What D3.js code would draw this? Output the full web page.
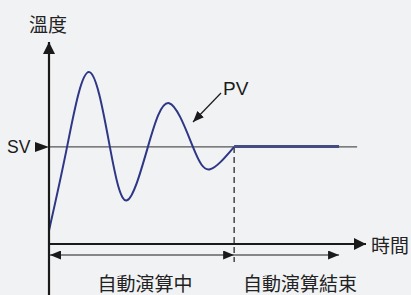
<!DOCTYPE html>
<html lang="zh-Hant">
<head>
<meta charset="utf-8">
<title>PV / SV</title>
<script src="https://d3js.org/d3.v7.min.js"></script>
<style type="text/css">
body { margin: 0; background: #f1f2f4; }
svg  { display: block; }
.cjk { font-family: "Noto Sans CJK TC", "Noto Sans CJK SC", sans-serif; fill: #222; }
.lat { font-family: "Liberation Sans", Arial, sans-serif; fill: #1a1a1a; }
</style>
</head>
<body>
<script type="text/javascript">

// process value during auto tuning (time units, temperature units)
var pvTime = [0, 0.57, 1.26, 1.92, 2.46, 3.12, 3.79, 4.54, 5.08, 5.84];
var pvTemp = [14, 100, 177, 100, 45, 100, 145, 100, 77, 100];

// set value and phases
var sv = 100;
var tuneEnd = 5.84;     // auto tuning finishes
var holdEnd = 9.15;     // end of the "finished" span
var svEnd = 9.72;
var tMax = 10, yMax = 208;

var labels = { y: "溫度", x: "時間", sv: "SV", pv: "PV",
               phase1: "自動演算中", phase2: "自動演算結束" };

var W = 411, H = 295;

var svg = d3.select("body").append("svg")
    .attr("width", W).attr("height", H);

var x = d3.scaleLinear().domain([0, tMax]).range([49, 366]);
var y = d3.scaleLinear().domain([0, yMax]).range([244, 42]);

// arrow markers
var defs = svg.append("defs");
function marker(id, w, h) {
  defs.append("marker")
      .attr("id", id)
      .attr("viewBox", "0 0 " + w + " " + h)
      .attr("refX", w).attr("refY", h / 2)
      .attr("markerWidth", w).attr("markerHeight", h)
      .attr("markerUnits", "userSpaceOnUse")
      .attr("orient", "auto-start-reverse")
    .append("path")
      .attr("d", "M0,0L" + w + "," + (h / 2) + "L0," + h + "Z")
      .attr("fill", "#1a1a1a");
}
marker("big", 12, 12);
marker("small", 11, 9);

// SV reference line
svg.append("line")
    .attr("x1", x(0)).attr("x2", x(svEnd))
    .attr("y1", y(sv)).attr("y2", y(sv))
    .attr("stroke", "#555").attr("stroke-width", 1.4);

// dashed marker at end of tuning
svg.append("line")
    .attr("x1", x(tuneEnd)).attr("x2", x(tuneEnd))
    .attr("y1", y(sv)).attr("y2", 262)
    .attr("stroke", "#1a1a1a").attr("stroke-width", 1.2)
    .attr("stroke-dasharray", "6,4");

// PV curve
var pts = pvTime.map(function(t, i) { return [t, pvTemp[i]]; });
var line = d3.line()
    .x(function(d) { return x(d[0]); })
    .y(function(d) { return y(d[1]); })
    .curve(d3.curveNatural);

svg.append("path")
    .attr("d", line(pts))
    .attr("fill", "none")
    .attr("stroke", "#2d3785").attr("stroke-width", 2);

svg.append("line")
    .attr("x1", x(tuneEnd)).attr("x2", x(holdEnd))
    .attr("y1", y(sv) - 0.5).attr("y2", y(sv) - 0.5)
    .attr("stroke", "#464c82").attr("stroke-width", 3);

// axes
svg.append("line")
    .attr("x1", x(0)).attr("x2", x(0))
    .attr("y1", H).attr("y2", y(yMax))
    .attr("stroke", "#1a1a1a").attr("stroke-width", 2.2)
    .attr("marker-end", "url(#big)");

svg.append("line")
    .attr("x1", x(0)).attr("x2", x(tMax))
    .attr("y1", y(0)).attr("y2", y(0))
    .attr("stroke", "#1a1a1a").attr("stroke-width", 2.2)
    .attr("marker-end", "url(#big)");

// phase arrows
svg.append("line")
    .attr("x1", x(0) + 1).attr("x2", x(tuneEnd))
    .attr("y1", 255).attr("y2", 255)
    .attr("stroke", "#1a1a1a").attr("stroke-width", 1)
    .attr("marker-start", "url(#small)")
    .attr("marker-end", "url(#small)");

svg.append("line")
    .attr("x1", x(tuneEnd)).attr("x2", x(holdEnd))
    .attr("y1", 255).attr("y2", 255)
    .attr("stroke", "#1a1a1a").attr("stroke-width", 1)
    .attr("marker-end", "url(#small)");

// SV pointer
svg.append("path")
    .attr("d", "M35," + (y(sv) - 5) + "L" + x(0) + "," + y(sv) + "L35," + (y(sv) + 5) + "Z")
    .attr("fill", "#1a1a1a");

// PV pointer
svg.append("line")
    .attr("x1", 221).attr("y1", 93)
    .attr("x2", 193).attr("y2", 122)
    .attr("stroke", "#1a1a1a").attr("stroke-width", 1.2)
    .attr("marker-end", "url(#small)");

// texts
svg.append("text").attr("class", "cjk")
    .attr("x", 48).attr("y", 23).attr("text-anchor", "middle")
    .attr("dominant-baseline", "central").attr("font-size", 19)
    .text(labels.y);

svg.append("text").attr("class", "cjk")
    .attr("x", 371).attr("y", 244)
    .attr("dominant-baseline", "central").attr("font-size", 19)
    .text(labels.x);

svg.append("text").attr("class", "lat")
    .attr("x", 7).attr("y", y(sv) + 6.5).attr("font-size", 17.5)
    .text(labels.sv);

svg.append("text").attr("class", "lat")
    .attr("x", 223).attr("y", 95).attr("font-size", 19)
    .text(labels.pv);

svg.append("text").attr("class", "cjk")
    .attr("x", 145).attr("y", 282).attr("text-anchor", "middle")
    .attr("dominant-baseline", "central").attr("font-size", 19)
    .text(labels.phase1);

svg.append("text").attr("class", "cjk")
    .attr("x", 300).attr("y", 282).attr("text-anchor", "middle")
    .attr("dominant-baseline", "central").attr("font-size", 19)
    .text(labels.phase2);

</script>
</body>
</html>
